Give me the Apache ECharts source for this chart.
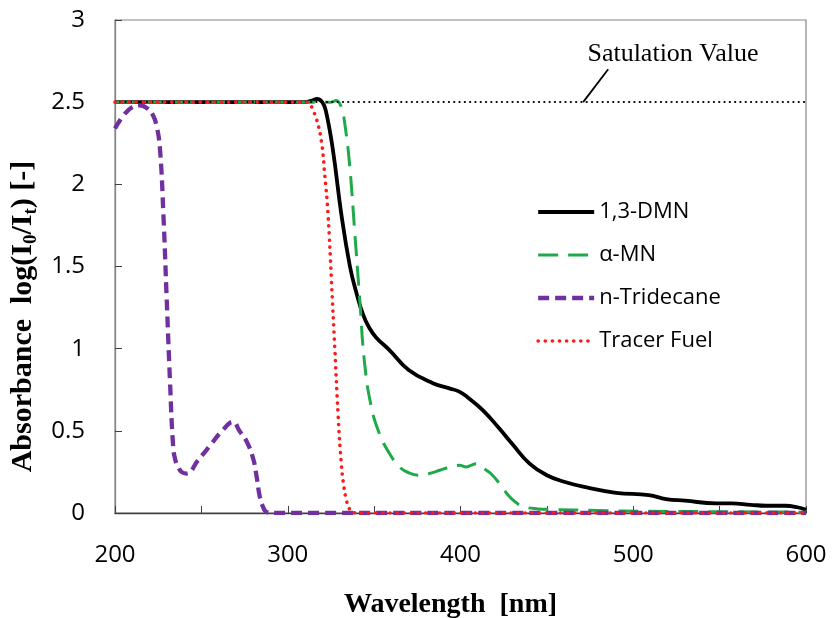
<!DOCTYPE html>
<html>
<head>
<meta charset="utf-8">
<script src="https://cdn.jsdelivr.net/npm/echarts@6/dist/echarts.min.js"></script>
<style>
html,body{margin:0;padding:0;background:#fff;}
#chart{width:833px;height:618px;}
</style>
</head>
<body>
<div id="chart"></div>
<script>
// ---- data ----
var seriesNames = ['1,3-DMN', 'α-MN', 'n-Tridecane', 'Tracer Fuel'];

var dmnX = [200, 250, 300, 310, 314, 317, 320, 322, 326, 331, 336, 340, 343.5, 347, 351, 359, 370, 384, 394, 399, 404, 413, 422, 430, 440, 450, 460, 471, 490, 509, 519, 530, 548, 557, 568, 577, 588, 595, 600];
var dmnY = [2.5, 2.5, 2.5, 2.5, 2.51, 2.52, 2.50, 2.45, 2.22, 1.82, 1.50, 1.33, 1.21, 1.13, 1.07, 0.99, 0.87, 0.79, 0.757, 0.74, 0.705, 0.625, 0.52, 0.42, 0.30, 0.23, 0.19, 0.16, 0.123, 0.109, 0.085, 0.075, 0.059, 0.059, 0.05, 0.044, 0.044, 0.035, 0.02];

var mnX = [200, 300, 325, 328, 331, 333, 335.8, 338.7, 341.6, 344.5, 348.4, 353.2, 359, 364.7, 370, 376.3, 382, 388, 394, 399.4, 403.3, 406, 409, 412, 415, 418.5, 422.5, 428.3, 432, 436, 445, 451.4, 480, 509, 550, 600];
var mnY = [2.5, 2.5, 2.5, 2.51, 2.47, 2.37, 2.12, 1.72, 1.31, 0.91, 0.645, 0.48, 0.36, 0.28, 0.245, 0.23, 0.24, 0.26, 0.28, 0.29, 0.28, 0.29, 0.30, 0.28, 0.26, 0.23, 0.18, 0.10, 0.065, 0.04, 0.025, 0.022, 0.015, 0.01, 0.008, 0.005];

var triX = [200, 205, 210, 214.5, 219, 222, 224, 226, 228, 229.9, 231.8, 233.7, 235, 236.6, 238.5, 241.4, 248, 255, 262, 268.4, 272, 276, 280, 282, 283.8, 286, 288, 295, 600];
var triY = [2.34, 2.42, 2.47, 2.48, 2.46, 2.42, 2.36, 2.22, 1.82, 1.31, 0.81, 0.40, 0.32, 0.28, 0.25, 0.24, 0.32, 0.41, 0.50, 0.555, 0.50, 0.44, 0.33, 0.22, 0.10, 0.03, 0.005, 0, 0];

var tfX = [200, 300, 310, 312.7, 314.6, 316.6, 319.5, 321.4, 323.3, 325.3, 327.2, 329.1, 331, 332.5, 333.9, 335.5, 336.8, 340, 600];
var tfY = [2.5, 2.5, 2.5, 2.49, 2.45, 2.40, 2.26, 2.06, 1.82, 1.41, 1.01, 0.605, 0.30, 0.16, 0.08, 0.03, 0.01, 0, 0];

var saturationValue = 2.5;
var saturationLabel = 'Satulation Value';
var xTickLabels = [200, 300, 400, 500, 600];
var yTickLabels = [0, 0.5, 1, 1.5, 2, 2.5, 3];

// annotation anchor points (data coords)
var labelAnchor = [523, 2.79];
var leaderFrom = [471, 2.5];
var leaderTo = [485.5, 2.70];

function pairs(xs, ys) { return xs.map(function (x, i) { return [x, ys[i]]; }); }

var chart = echarts.init(document.getElementById('chart'), null, {renderer: 'canvas'});

var serifBold = {fontFamily: '"Liberation Serif", "Times New Roman", serif', fontWeight: 'bold', color: '#000'};
var sansFont = '"Open Sans", "Noto Sans", sans-serif';

var option = {
  animation: false,
  backgroundColor: '#fff',
  grid: {left: 115, right: 27, top: 20, bottom: 105, show: true, borderColor: '#868686', borderWidth: 1.2, backgroundColor: 'transparent', outerBoundsMode: 'none', containLabel: false},
  legend: {
    data: seriesNames,
    orient: 'vertical',
    left: 531, top: 194,
    itemWidth: 56, itemHeight: 14, itemGap: 17,
    itemStyle: {opacity: 0, borderWidth: 0},
    lineStyle: {width: 'inherit', type: 'inherit'},
    textStyle: {fontFamily: sansFont, fontSize: 22, color: '#000', lineHeight: 26}
  },
  xAxis: {
    type: 'value', min: 200, max: 600, interval: 50,
    name: 'Wavelength  [nm]', nameLocation: 'middle', nameGap: 78,
    nameTextStyle: Object.assign({fontSize: 28, padding: [0, 20, 0, 0]}, serifBold),
    axisLine: {lineStyle: {color: '#404040', width: 1.3}},
    axisTick: {inside: true, length: 7, lineStyle: {color: '#404040', width: 1}},
    axisLabel: {
      margin: 30, fontFamily: sansFont, fontSize: 24, color: '#000',
      formatter: function (v) { return xTickLabels.indexOf(v) >= 0 ? String(v) : ''; }
    },
    splitLine: {show: false}
  },
  yAxis: {
    type: 'value', min: 0, max: 3, interval: 0.5,
    name: '{b|Absorbance  log(I}{s|0}{b|/I}{s|t}{b|) [-]}',
    nameLocation: 'middle', nameGap: 73, nameRotate: 90,
    nameTextStyle: {
      padding: [0, 100, 0, 0],
      rich: {
        b: Object.assign({fontSize: 30, lineHeight: 34}, serifBold),
        s: Object.assign({fontSize: 19, lineHeight: 17, verticalAlign: 'bottom'}, serifBold)
      }
    },
    axisLine: {show: true, lineStyle: {color: '#868686', width: 1.3}},
    axisTick: {show: true, inside: true, length: 7, lineStyle: {color: '#404040', width: 1}},
    axisLabel: {
      margin: 30, fontFamily: sansFont, fontSize: 24, color: '#000',
      formatter: function (v) { return yTickLabels.indexOf(v) >= 0 ? String(v) : ''; }
    },
    splitLine: {show: false}
  },
  series: [
    {
      name: seriesNames[0], type: 'line', data: pairs(dmnX, dmnY), showSymbol: false, symbol: 'none',
      smooth: 0.45,
      lineStyle: {color: '#000', width: 3.8},
      itemStyle: {color: '#000'}, z: 2
    },
    {
      name: seriesNames[1], type: 'line', data: pairs(mnX, mnY), showSymbol: false, symbol: 'none',
      smooth: 0.45,
      lineStyle: {color: '#1faa4a', width: 3, type: [20, 10]},
      itemStyle: {color: '#1faa4a'}, z: 3
    },
    {
      name: seriesNames[2], type: 'line', data: pairs(triX, triY), showSymbol: false, symbol: 'none',
      smooth: 0.45,
      lineStyle: {color: '#7030a0', width: 4.3, type: [11, 6]},
      itemStyle: {color: '#7030a0'}, z: 4
    },
    {
      name: seriesNames[3], type: 'line', data: pairs(tfX, tfY), showSymbol: false, symbol: 'none',
      smooth: 0.45,
      lineStyle: {color: '#ff1a1a', width: 3.6, type: [0.1, 7], cap: 'round'},
      itemStyle: {color: '#ff1a1a'}, z: 5,
      markLine: {
        silent: true, symbol: 'none',
        label: {show: false},
        lineStyle: {color: '#000', width: 2.2, type: [0.1, 5.2], cap: 'round'},
        data: [{yAxis: saturationValue}]
      }
    }
  ]
};

chart.setOption(option);

var pLabel = chart.convertToPixel({gridIndex: 0}, labelAnchor);
var pFrom = chart.convertToPixel({gridIndex: 0}, leaderFrom);
var pTo = chart.convertToPixel({gridIndex: 0}, leaderTo);

chart.setOption({
  graphic: [
    {
      type: 'text', x: pLabel[0], y: pLabel[1], z: 10,
      style: {text: saturationLabel, fontFamily: '"Liberation Serif", "Times New Roman", serif', fontSize: 26, fill: '#000', align: 'center', verticalAlign: 'middle'}
    },
    {
      type: 'line', z: 10,
      shape: {x1: pFrom[0], y1: pFrom[1], x2: pTo[0], y2: pTo[1]},
      style: {stroke: '#000', lineWidth: 1.8}
    }
  ]
});
</script>
</body>
</html>
